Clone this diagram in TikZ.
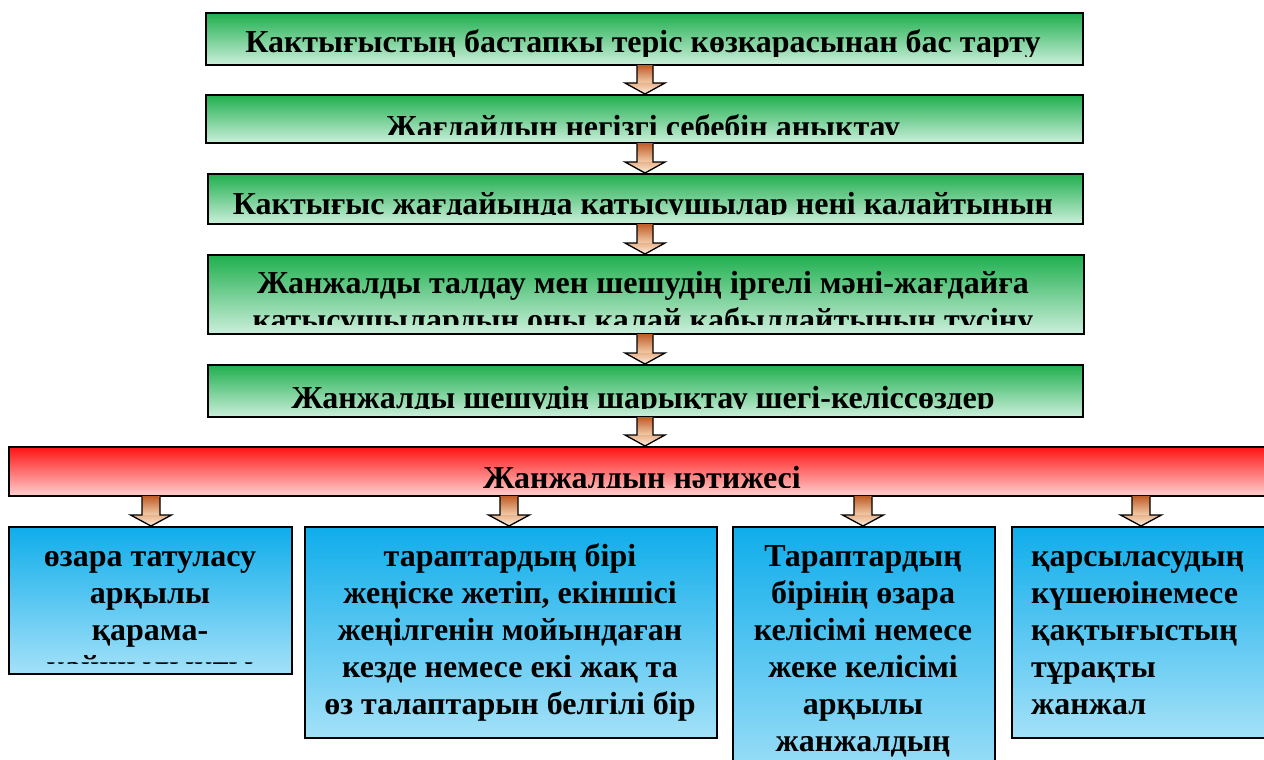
\documentclass[tikz,border=0pt]{standalone}
\usepackage{fontspec}
\setmainfont{Liberation Serif}
\usetikzlibrary{calc}
\definecolor{gtop}{HTML}{1FAF4E}
\definecolor{gbot}{HTML}{CBEFDB}
\definecolor{rtop}{HTML}{FF1212}
\definecolor{rbot}{HTML}{FFD0D0}
\definecolor{btop}{HTML}{0FADEB}
\definecolor{bbot}{HTML}{A4E1F8}
\definecolor{adark}{HTML}{C0602A}
\definecolor{alight}{HTML}{F2CBAA}
\definecolor{htop}{HTML}{E8B38A}
\definecolor{hbot}{HTML}{FDEEDF}
\tikzset{
  x=1pt, y=-1pt,
  box/.style={draw=black, line width=1.6pt, inner sep=0pt, anchor=north west},
  gbox/.style={box, top color=gtop, bottom color=gbot},
  rbox/.style={box, top color=rtop, bottom color=rbot},
  bbox/.style={box, top color=btop, bottom color=bbot},
  txt/.style={inner sep=0pt, font=\fontsize{32pt}{37pt}\selectfont\bfseries},
  mtxt/.style={txt, align=center, anchor=north},
}
% #1 x, #2 source node, #3 target node, #4 half shaft, #5 half head
\newcommand{\flowarr}[5]{%
  \path[top color=adark, bottom color=alight] let \p1=(#2.south), \p2=(#3.north) in
    ({#1pt-#4pt},\y1) rectangle ({#1pt+#4pt},\y2+11pt);
  \path[top color=htop, bottom color=hbot] let \p1=(#2.south), \p2=(#3.north) in
    ({#1pt-#5pt},\y2+11pt) -- ({#1pt},\y2) -- ({#1pt+#5pt},\y2+11pt) -- cycle;
  \draw[line width=1.3pt, line join=miter] let \p1=(#2.south), \p2=(#3.north) in
    ({#1pt-#4pt},\y1) -- ({#1pt-#4pt},\y2+11pt) -- ({#1pt-#5pt},\y2+11pt)
    -- ({#1pt},\y2) -- ({#1pt+#5pt},\y2+11pt) -- ({#1pt+#4pt},\y2+11pt) -- ({#1pt+#4pt},\y1);
}
% #1 node, #2 bottom inset
\newcommand{\boxclip}[2]{\clip ([shift={(1pt,-1pt)}]#1.north west) rectangle ([yshift=#2pt]#1.south east);}
\begin{document}
\begin{tikzpicture}
\useasboundingbox (0,0) rectangle (1264,760);
\fill[white] (0,0) rectangle (1264,760);
% boxes
\node[gbox, minimum width=877pt, minimum height=52pt] (b1) at (205,12) {};
\node[gbox, minimum width=877pt, minimum height=48pt] (b2) at (205,94) {};
\node[gbox, minimum width=875pt, minimum height=50pt] (b3) at (207,173) {};
\node[gbox, minimum width=876pt, minimum height=79pt] (b4) at (207,254) {};
\node[gbox, minimum width=875pt, minimum height=52pt] (b5) at (207,364) {};
\node[rbox, minimum width=1290pt, minimum height=49pt] (res) at (8,446) {};
\node[bbox, minimum width=283pt, minimum height=147pt] (o1) at (8,526) {};
\node[bbox, minimum width=412pt, minimum height=211pt] (o2) at (304,526) {};
\node[bbox, minimum width=262pt, minimum height=262pt] (o3) at (732,526) {};
\node[bbox, minimum width=280pt, minimum height=211pt] (o4) at (1011,526) {};
% texts
\begin{scope}\boxclip{b1}{9}
\node[txt, anchor=base] (t1) at (643,53) {Кактығыстың бастапкы теріс көзкарасынан бас тарту};
\end{scope}
\begin{scope}\boxclip{b2}{9}
\node[txt, anchor=base] (t2) at (643,137) {Жағдайдың негізгі себебін анықтау};
\end{scope}
\begin{scope}\boxclip{b3}{10}
\node[txt, anchor=base] (t3) at (643,214) {Кактығыс жағдайында катысушылар нені калайтынын};
\end{scope}
\begin{scope}\boxclip{b4}{10}
\node[mtxt] (t4) at (643,263) {\rule{0pt}{30pt}Жанжалды талдау мен шешудің іргелі мәні-жағдайға\\катысушылардың оны қалай қабылдайтынын түсіну};
\end{scope}
\begin{scope}\boxclip{b5}{9}
\node[txt, anchor=base] (t5) at (643,408) {Жанжалды шешудің шарықтау шегі-келіссөздер};
\end{scope}
\begin{scope}\boxclip{res}{9}
\node[txt, anchor=base] (tr) at (642,488) {Жанжалдың нәтижесі};
\end{scope}
\begin{scope}\boxclip{o1}{11}
\node[mtxt] (u1) at (150,536) {\rule{0pt}{30pt}өзара татуласу\\арқылы\\қарама-\\қайшылықты};
\end{scope}
\begin{scope}\boxclip{o2}{9}
\node[mtxt] (u2) at (510,536) {\rule{0pt}{30pt}тараптардың бірі\\жеңіске жетіп, екіншісі\\жеңілгенін мойындаған\\кезде немесе екі жақ та\\өз талаптарын белгілі бір};
\end{scope}
\begin{scope}\boxclip{o3}{9}
\node[mtxt] (u3) at (863,536) {\rule{0pt}{30pt}Тараптардың\\бірінің өзара\\келісімі немесе\\жеке келісімі\\арқылы\\жанжалдың};
\end{scope}
\begin{scope}\boxclip{o4}{9}
\node[txt, align=left, anchor=north west] (u4) at (1031,536) {\rule{0pt}{30pt}қарсыласудың\\күшеюінемесе\\қақтығыстың\\тұрақты\\жанжал};
\end{scope}
% arrows
\flowarr{645}{b1}{b2}{8}{20}
\flowarr{645}{b2}{b3}{8}{20}
\flowarr{645}{b3}{b4}{8}{20}
\flowarr{645}{b4}{b5}{8}{20}
\flowarr{645}{b5}{res}{8}{20}
\flowarr{151}{res}{o1}{9}{20.5}
\flowarr{509}{res}{o2}{9}{20.5}
\flowarr{863}{res}{o3}{9}{20.5}
\flowarr{1141}{res}{o4}{9}{20.5}
\end{tikzpicture}
\end{document}
